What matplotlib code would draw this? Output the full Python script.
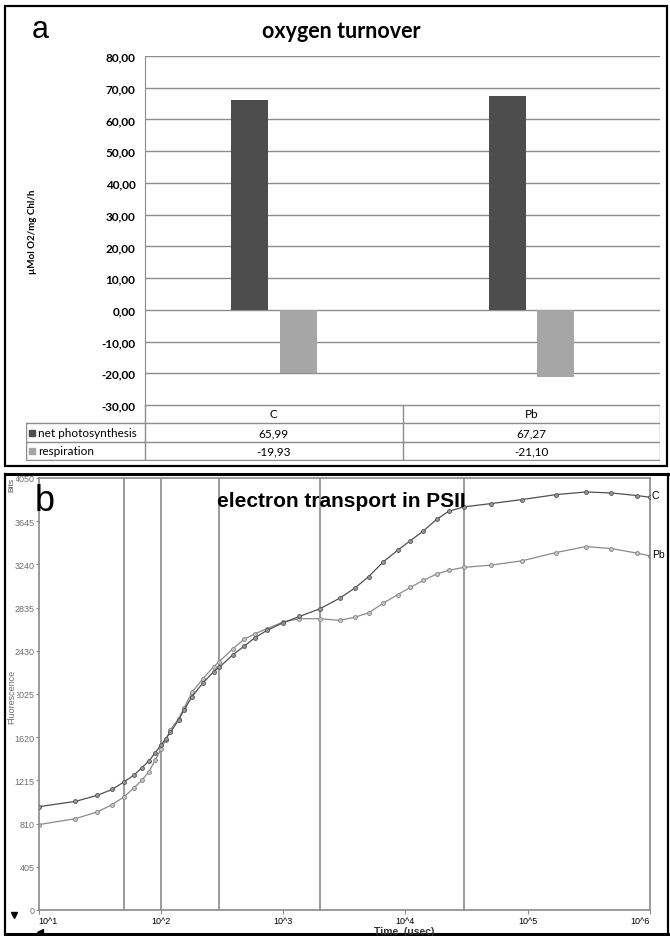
import matplotlib
matplotlib.use("Agg")
import matplotlib.pyplot as plt
from matplotlib.patches import Rectangle
from matplotlib.lines import Line2D

# ---- panel a data: oxygen turnover ----
categories = ["C", "Pb"]
net_photosynthesis = [65.99, 67.27]
respiration = [-19.93, -21.10]
series_names = ["net photosynthesis", "respiration"]
yticks_a = [80, 70, 60, 50, 40, 30, 20, 10, 0, -10, -20, -30]

# ---- panel b data: OJIP fluorescence transient ----
time_us = [10, 20, 30, 40, 50, 60, 70, 80, 90, 100, 110, 120, 140, 155, 180,
           220, 270, 300, 390, 480, 590, 740, 1000, 1360, 2000, 2900, 3900,
           5000, 6600, 8650, 11000, 14000, 18000, 22700, 30000, 50000, 90000,
           170000, 300000, 480000, 790000, 1000000]
fluo_c = [968, 1018, 1074, 1130, 1201, 1263, 1334, 1396, 1474, 1545, 1607,
          1666, 1784, 1877, 2001, 2126, 2234, 2274, 2395, 2473, 2554, 2622,
          2693, 2752, 2824, 2923, 3022, 3125, 3264, 3373, 3463, 3553, 3662,
          3739, 3779, 3810, 3848, 3894, 3919, 3910, 3885, 3869]
fluo_pb = [800, 856, 918, 987, 1061, 1142, 1216, 1297, 1403, 1505, 1598,
           1691, 1794, 1893, 2042, 2166, 2280, 2327, 2451, 2538, 2591, 2638,
           2700, 2731, 2731, 2715, 2746, 2786, 2877, 2957, 3025, 3090, 3150,
           3185, 3212, 3233, 3274, 3351, 3407, 3389, 3345, 3320]
marker_times = [50, 100, 300, 2000, 30000]
yticks_b = [0, 405, 810, 1215, 1620, 2025, 2430, 2835, 3240, 3645, 4050]
xticks_b = [1e1, 1e2, 1e3, 1e4, 1e5, 1e6]
xticklabels_b = ["10^1", "10^2", "10^3", "10^4", "10^5", "10^6"]

W, H = 670, 937
fig = plt.figure(figsize=(W / 100, H / 100), dpi=100)


def px_rect(x0, y0, x1, y1):
    # pixel box (top-left origin) -> figure fraction rect
    return [x0 / W, 1 - y1 / H, (x1 - x0) / W, (y1 - y0) / H]


def fx(x):
    return x / W


def fy(y):
    return 1 - y / H


calibri = ["Lato", "DejaVu Sans"]
arial = ["Liberation Sans", "DejaVu Sans"]
dark = "#4d4d4d"
light = "#a6a6a6"

# ================= panel a =================
fig.add_artist(Rectangle((fx(5), fy(467)), fx(662), 460 / H, transform=fig.transFigure,
                         fill=False, edgecolor="black", linewidth=1.6))

ax = fig.add_axes(px_rect(145, 57, 660, 406))
pos = list(range(len(categories)))
bw = 0.144
ax.bar([p - 0.093 for p in pos], net_photosynthesis, width=bw, color=dark, zorder=3)
ax.bar([p + 0.095 for p in pos], respiration, width=bw, color=light, zorder=3)
ax.set_xlim(-0.5, 1.5)
ax.set_ylim(-30, 80)
ax.set_yticks(yticks_a)
ax.set_yticklabels([f"{v:.2f}".replace(".", ",") for v in yticks_a],
                   fontsize=8.5, fontweight="bold", family=calibri)
ax.tick_params(axis="y", length=0, pad=7)
ax.set_xticks([])
ax.grid(axis="y", color="#8c8c8c", linewidth=1.0, zorder=0)
for s in ["top", "right", "bottom"]:
    ax.spines[s].set_visible(False)
ax.spines["left"].set_color("#8c8c8c")
ax.set_ylabel("µMol O2/mg Chl/h", fontsize=7, fontweight="bold", family=calibri)
ax.yaxis.set_label_coords(-0.21, 0.5)

fig.text(fx(341), fy(32), "oxygen turnover", fontsize=15.5, fontweight="bold",
         family=calibri, ha="center", va="center")
fig.text(fx(40), fy(30), "a", fontsize=22, family=arial, ha="center", va="center")

# data table under the chart
tab = fig.add_axes(px_rect(26, 406, 660, 462))
tab.set_xlim(26, 660)
tab.set_ylim(462, 406)
tab.axis("off")
gc = "#8c8c8c"
row_y = [406, 424, 443, 461]
col_x = [145, 402.5, 660]
tab.plot([145, 660], [406, 406], color=gc, lw=1)
for yy in row_y[1:]:
    tab.plot([26, 660], [yy, yy], color=gc, lw=1)
tab.plot([26, 26], [424, 461], color=gc, lw=1)
for xx in col_x:
    tab.plot([xx, xx], [406, 461], color=gc, lw=1)
for i, cat in enumerate(categories):
    xc = (col_x[i] + col_x[i + 1]) / 2
    tab.text(xc, 415, cat, fontsize=8.5, family=calibri, ha="center", va="center")
    tab.text(xc, 433.5, f"{net_photosynthesis[i]:.2f}".replace(".", ","),
             fontsize=8.5, family=calibri, ha="center", va="center")
    tab.text(xc, 452, f"{respiration[i]:.2f}".replace(".", ","),
             fontsize=8.5, family=calibri, ha="center", va="center")
for name, col, yc in zip(series_names, [dark, light], [433.5, 452]):
    tab.add_patch(Rectangle((29, yc - 3), 6, 6, color=col))
    tab.text(38, yc, name, fontsize=8.5, family=calibri, ha="left", va="center")

# ================= panel b =================
fig.add_artist(Line2D([fx(5), fx(668)], [fy(475), fy(475)], transform=fig.transFigure,
                      color="black", linewidth=2.2))
fig.add_artist(Line2D([fx(5), fx(668)], [fy(935), fy(935)], transform=fig.transFigure,
                      color="black", linewidth=2.2))
fig.add_artist(Line2D([fx(5), fx(5)], [fy(475), fy(935)], transform=fig.transFigure,
                      color="black", linewidth=1.6))
fig.add_artist(Line2D([fx(668), fx(668)], [fy(475), fy(935)], transform=fig.transFigure,
                      color="black", linewidth=1.6))

bx = fig.add_axes(px_rect(38.5, 479, 650, 911))
bx.set_xscale("log")
bx.set_xlim(1e1, 1e6)
bx.set_ylim(0, 4050)
for t in marker_times:
    bx.axvline(t, color="#8a8a8a", linewidth=1.2, zorder=1)
bx.plot(time_us, fluo_c, color="#505050", linewidth=0.9, marker="o", markersize=2.8,
        markerfacecolor="#9a9a9a", markeredgecolor="#505050", markeredgewidth=0.6, zorder=3)
bx.plot(time_us, fluo_pb, color="#8a8a8a", linewidth=0.9, marker="o", markersize=2.8,
        markerfacecolor="#c8c8c8", markeredgecolor="#808080", markeredgewidth=0.6, zorder=2)
bx.set_yticks(yticks_b)
bx.set_yticklabels([str(v) for v in yticks_b], fontsize=6.5, color="#6e6e6e", family=arial)
bx.set_xticks(xticks_b)
bx.set_xticklabels(xticklabels_b, fontsize=6.5, family=arial)
bx.minorticks_off()
bx.tick_params(axis="y", length=2, width=0.8, color="#8a8a8a", pad=1)
bx.tick_params(axis="x", length=3, width=0.8, color="#8a8a8a", pad=1)
bx.get_xticklabels()[0].set_horizontalalignment("left")
bx.get_xticklabels()[-1].set_horizontalalignment("right")
for s in bx.spines.values():
    s.set_color("#8a8a8a")
    s.set_linewidth(1.2)

bx.text(1.003, fluo_c[-1] / 4050 + 0.005, "C", transform=bx.transAxes, fontsize=7.5,
        family=arial, ha="left", va="center")
bx.text(1.003, fluo_pb[-1] / 4050 + 0.005, "Pb", transform=bx.transAxes, fontsize=7.5,
        family=arial, ha="left", va="center")

fig.text(fx(341), fy(502), "electron transport in PSII", fontsize=15, fontweight="bold",
         family=["Liberation Sans Narrow", "Liberation Sans"], ha="center", va="center")
fig.text(fx(45), fy(502), "b", fontsize=26, family=arial, ha="center", va="center")
# axis captions drawn over the first digit of the nearby tick labels, as in the source
fig.text(fx(12), fy(485), "Bits", fontsize=6, family=arial, rotation=90,
         ha="center", va="center", color="#505050",
         bbox=dict(facecolor="white", edgecolor="none", pad=0.3))
fig.text(fx(12), fy(697), "Fluorescence", fontsize=6.5, family=arial, rotation=90,
         ha="center", va="center", color="#6e6e6e",
         bbox=dict(facecolor="white", edgecolor="none", pad=0.3))
fig.text(fx(404), fy(932), "Time  (usec)", fontsize=7.5, fontweight="bold",
         family=arial, ha="center", va="center", color="#333333")
fig.add_artist(Line2D([fx(14)], [fy(916)], transform=fig.transFigure, marker="v",
                      markersize=5, color="black", linestyle="none"))
fig.add_artist(Line2D([fx(40)], [fy(933)], transform=fig.transFigure, marker="<",
                      markersize=4, color="black", linestyle="none"))

fig.savefig("out.png", dpi=100)
